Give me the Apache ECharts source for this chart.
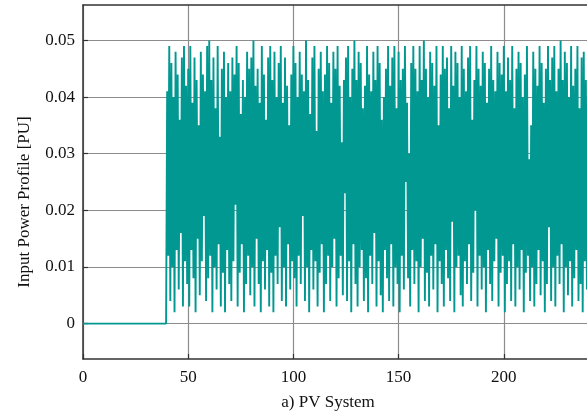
<!DOCTYPE html>
<html>
<head>
<meta charset="utf-8">
<script src="https://cdn.jsdelivr.net/npm/echarts@6/dist/echarts.min.js"></script>
<style>html,body{margin:0;padding:0;background:#fff}#c{width:587px;height:414px}</style>
</head>
<body>
<div id="c"></div>
<script>
// Flat zero segment before the PV system starts
const offX = [0, 39.5];
const offY = [0, 0];
// Peak values (x = 40, 41, ... 241)
const peakX0 = 40;
const peaks = [
0.041,0.049,0.046,0.040,0.048,0.044,0.036,0.047,0.049,0.042,
0.045,0.049,0.039,0.047,0.043,0.035,0.048,0.044,0.041,0.049,
0.050,0.043,0.047,0.038,0.049,0.033,0.045,0.048,0.040,0.046,
0.041,0.047,0.044,0.049,0.046,0.037,0.043,0.040,0.048,0.045,
0.047,0.050,0.042,0.045,0.039,0.049,0.044,0.036,0.047,0.049,
0.043,0.048,0.040,0.046,0.049,0.039,0.047,0.042,0.035,0.044,
0.049,0.046,0.040,0.048,0.044,0.041,0.050,0.043,0.037,0.047,
0.049,0.034,0.045,0.048,0.041,0.044,0.049,0.046,0.039,0.048,
0.045,0.049,0.042,0.032,0.043,0.047,0.049,0.040,0.045,0.050,
0.043,0.048,0.046,0.038,0.042,0.049,0.044,0.041,0.048,0.043,
0.049,0.046,0.036,0.040,0.045,0.049,0.042,0.047,0.049,0.038,
0.048,0.043,0.045,0.049,0.039,0.030,0.046,0.049,0.045,0.041,
0.049,0.043,0.050,0.045,0.040,0.048,0.046,0.042,0.049,0.035,
0.044,0.049,0.045,0.047,0.038,0.049,0.042,0.048,0.046,0.040,
0.049,0.045,0.041,0.047,0.049,0.036,0.043,0.049,0.045,0.042,
0.048,0.046,0.039,0.045,0.049,0.043,0.041,0.048,0.046,0.044,
0.049,0.041,0.047,0.043,0.049,0.038,0.045,0.048,0.046,0.040,
0.044,0.049,0.029,0.035,0.048,0.045,0.042,0.049,0.046,0.039,
0.045,0.049,0.043,0.047,0.049,0.041,0.045,0.050,0.043,0.048,
0.046,0.040,0.049,0.042,0.045,0.049,0.038,0.047,0.048,0.043,
0.041,0.049
];
// Trough values (x = 40.5, 41.5, ... 241.5)
const troughX0 = 40.5;
const troughs = [
0.012,0.004,0.010,0.002,0.013,0.006,0.016,0.003,0.011,0.007,
0.003,0.013,0.008,0.002,0.015,0.005,0.011,0.019,0.004,0.008,
0.012,0.002,0.010,0.006,0.014,0.003,0.009,0.002,0.013,0.007,
0.004,0.011,0.021,0.003,0.009,0.014,0.002,0.007,0.012,0.005,
0.010,0.003,0.015,0.007,0.002,0.011,0.006,0.013,0.003,0.009,
0.002,0.012,0.007,0.017,0.004,0.010,0.003,0.014,0.006,0.011,
0.008,0.003,0.012,0.007,0.019,0.004,0.010,0.002,0.013,0.006,
0.011,0.003,0.009,0.014,0.002,0.007,0.012,0.004,0.010,0.015,
0.003,0.008,0.012,0.005,0.023,0.004,0.011,0.002,0.014,0.007,
0.003,0.010,0.013,0.004,0.008,0.002,0.012,0.007,0.016,0.003,
0.011,0.005,0.002,0.013,0.008,0.004,0.014,0.003,0.010,0.007,
0.002,0.012,0.006,0.025,0.008,0.003,0.013,0.007,0.011,0.002,
0.010,0.015,0.004,0.009,0.003,0.012,0.006,0.014,0.002,0.011,
0.007,0.003,0.013,0.008,0.004,0.018,0.002,0.010,0.012,0.005,
0.003,0.011,0.007,0.014,0.004,0.009,0.020,0.003,0.012,0.006,
0.010,0.002,0.013,0.007,0.004,0.011,0.015,0.003,0.009,0.012,
0.002,0.007,0.011,0.004,0.014,0.003,0.010,0.006,0.013,0.002,
0.009,0.012,0.004,0.010,0.003,0.007,0.013,0.005,0.011,0.002,
0.007,0.017,0.004,0.010,0.003,0.012,0.007,0.014,0.002,0.010,
0.005,0.011,0.003,0.008,0.013,0.004,0.007,0.002,0.011,0.006,
0.009,0.003
];
const xTicks = [0, 50, 100, 150, 200, 250];
const yTicks = [0, 0.01, 0.02, 0.03, 0.04, 0.05];
const yLabels = ['0', '0.01', '0.02', '0.03', '0.04', '0.05'];
const yName = 'Input Power Profile [PU]';
const xName = 'a) PV System';

const seriesData = [];
for (let i = 0; i < offX.length; i++) seriesData.push([offX[i], offY[i]]);
for (let i = 0; i < peaks.length; i++) {
  seriesData.push([peakX0 + i, peaks[i]]);
  seriesData.push([troughX0 + i, troughs[i]]);
}

const FONT = 'Liberation Serif';
const chart = echarts.init(document.getElementById('c'), null, {renderer: 'canvas'});
chart.setOption({
  animation: false,
  backgroundColor: '#ffffff',
  grid: {left: 83, right: -22, top: 5, bottom: 55, containLabel: false, outerBoundsMode: 'none'},
  xAxis: [{
    type: 'value', min: xTicks[0], max: xTicks[xTicks.length - 1], interval: 50,
    axisLine: {show: true, onZero: false, lineStyle: {color: '#333', width: 1.5}},
    axisTick: {show: true, inside: true, length: 5, lineStyle: {color: '#333', width: 1.2}},
    axisLabel: {color: '#111', fontFamily: FONT, fontSize: 17, margin: 10},
    splitLine: {show: true, lineStyle: {color: '#8c8c8c', width: 1.2}}
  }, {
    type: 'value', position: 'top', min: xTicks[0], max: xTicks[xTicks.length - 1], interval: 50,
    axisLine: {show: true, onZero: false, lineStyle: {color: '#333', width: 1.5}},
    axisTick: {show: false}, axisLabel: {show: false}, splitLine: {show: false}
  }],
  yAxis: {
    type: 'value', min: -0.00625, max: 0.05625,
    axisLine: {show: true, onZero: false, lineStyle: {color: '#333', width: 1.5}},
    axisTick: {show: true, inside: true, length: 5, customValues: yTicks, lineStyle: {color: '#333', width: 1.2}},
    axisLabel: {
      customValues: yTicks, color: '#111', fontFamily: FONT, fontSize: 17, margin: 8,
      formatter: function (v) { const k = yTicks.findIndex(t => Math.abs(t - v) < 1e-9); return k >= 0 ? yLabels[k] : ''; }
    },
    splitLine: {show: true, lineStyle: {color: '#8c8c8c', width: 1.2}}
  },
  series: [{
    type: 'line', data: seriesData, showSymbol: false, symbol: 'none',
    lineStyle: {color: '#009891', width: 1.9, join: 'bevel'}, z: 3
  }],
  graphic: [
    {type: 'text', x: 25, y: 202, rotation: Math.PI / 2,
     style: {text: yName, font: '17px "Liberation Serif"', fill: '#111', textAlign: 'center', textVerticalAlign: 'middle'}},
    {type: 'text', x: 328, y: 403,
     style: {text: xName, font: '17px "Liberation Serif"', fill: '#111', textAlign: 'center', textVerticalAlign: 'middle'}}
  ]
});
</script>
</body>
</html>
